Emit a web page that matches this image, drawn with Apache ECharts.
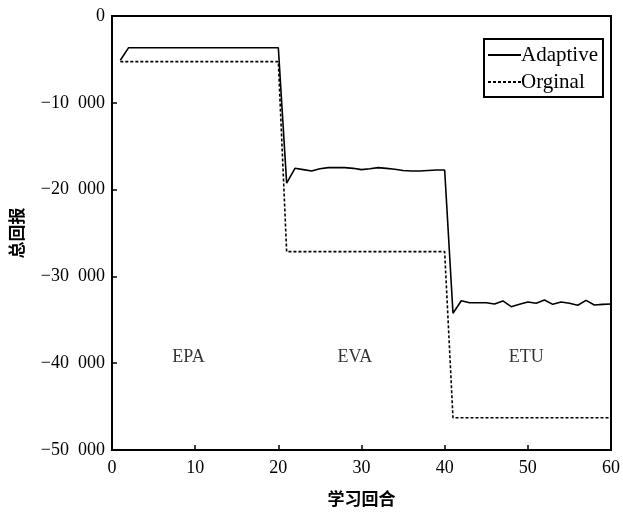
<!DOCTYPE html>
<html>
<head>
<meta charset="utf-8">
<script src="https://cdn.jsdelivr.net/npm/echarts@6/dist/echarts.min.js"></script>
<style>html,body{margin:0;padding:0;background:#fff}#c{width:623px;height:518px}</style>
</head>
<body>
<div id="c"></div>
<script>
const episodes = Array.from({length: 60}, (_, i) => i + 1);
const adaptive = [
  -5100, -3650, -3650, -3650, -3650, -3650, -3650, -3650, -3650, -3650,
  -3650, -3650, -3650, -3650, -3650, -3650, -3650, -3650, -3650, -3650,
  -19250, -17550, -17700, -17860, -17600, -17470, -17470, -17470, -17550, -17700,
  -17600, -17470, -17550, -17650, -17800, -17860, -17850, -17800, -17750, -17740,
  -34250, -32800, -33030, -33030, -33030, -33180, -32830, -33490, -33220, -32950,
  -33100, -32720, -33220, -32950, -33100, -33330, -32760, -33290, -33220, -33180
];
const original = [
  -5260, -5260, -5260, -5260, -5260, -5260, -5260, -5260, -5260, -5260,
  -5260, -5260, -5260, -5260, -5260, -5260, -5260, -5260, -5260, -5260,
  -27150, -27150, -27150, -27150, -27150, -27150, -27150, -27150, -27150, -27150,
  -27150, -27150, -27150, -27150, -27150, -27150, -27150, -27150, -27150, -27150,
  -46280, -46280, -46280, -46280, -46280, -46280, -46280, -46280, -46280, -46280,
  -46280, -46280, -46280, -46280, -46280, -46280, -46280, -46280, -46280, -46280
];
const phaseNames = ['EPA', 'EVA', 'ETU'];
const phaseX = [9.2, 29.2, 49.8];
const phaseY = [-39300, -39300, -39300];
const seriesNames = ['Adaptive', 'Orginal'];

function fmtY(v) {
  if (v === 0) return '0';
  const a = Math.abs(v);
  const s = String(a).replace(/\B(?=(\d{3})+(?!\d))/g, '\u2002');
  return (v < 0 ? '\u2212' : '') + s;
}

const serif = '"Liberation Serif", "Times New Roman", serif';
const cjk = '"Noto Sans CJK SC", sans-serif';

const chart = echarts.init(document.getElementById('c'), null, {renderer: 'canvas'});
chart.setOption({
  backgroundColor: '#fff',
  animation: false,
  grid: {left: 111, right: 11, top: 16, bottom: 68, show: true, borderColor: '#000', borderWidth: 2, backgroundColor: 'transparent'},
  legend: {
    data: seriesNames,
    orient: 'vertical',
    left: 484, top: 39,
    padding: [5, 5, 4, 3],
    itemGap: 5,
    itemWidth: 33, itemHeight: 14,
    borderColor: '#000', borderWidth: 2,
    itemStyle: {opacity: 0},
    textStyle: {fontFamily: serif, fontSize: 21, lineHeight: 22, color: '#000', padding: [0, 0, 0, -5]}
  },
  xAxis: {
    type: 'value', min: 0, max: 60, interval: 10,
    name: '学习回合', nameLocation: 'middle', nameGap: 40,
    nameTextStyle: {fontFamily: cjk, fontSize: 17, fontWeight: 'bold', color: '#000'},
    axisLine: {onZero: false, lineStyle: {color: '#000', width: 2}},
    axisTick: {inside: true, length: 5, lineStyle: {color: '#000', width: 1.5}},
    axisLabel: {fontFamily: serif, fontSize: 18, color: '#000', margin: 9},
    splitLine: {show: false}
  },
  yAxis: {
    type: 'value', min: -50000, max: 0, interval: 10000,
    name: '总回报', nameLocation: 'middle', nameGap: 87, nameRotate: 90,
    nameTextStyle: {fontFamily: cjk, fontSize: 17, fontWeight: 'bold', color: '#000'},
    axisLine: {onZero: false, lineStyle: {color: '#000', width: 2}},
    axisTick: {inside: true, length: 5, lineStyle: {color: '#000', width: 1.5}},
    axisLabel: {fontFamily: serif, fontSize: 18, color: '#000', margin: 7, formatter: fmtY},
    splitLine: {show: false}
  },
  series: [
    {
      name: seriesNames[0], type: 'line', symbol: 'none',
      data: episodes.map((x, i) => [x, adaptive[i]]),
      lineStyle: {color: '#000', width: 1.6, type: 'solid'},
      itemStyle: {color: 'rgba(0,0,0,0)'}
    },
    {
      name: seriesNames[1], type: 'line', symbol: 'none',
      data: episodes.map((x, i) => [x, original[i]]),
      lineStyle: {color: '#000', width: 1.6, type: [3, 2]},
      itemStyle: {color: 'rgba(0,0,0,0)'}
    },
    {
      name: 'phases', type: 'scatter', symbolSize: 0, silent: true,
      data: phaseNames.map((n, i) => ({value: [phaseX[i], phaseY[i]], name: n})),
      label: {show: true, position: 'inside', formatter: p => p.name, fontFamily: serif, fontSize: 18, color: '#000'}
    }
  ]
});
</script>
</body>
</html>
